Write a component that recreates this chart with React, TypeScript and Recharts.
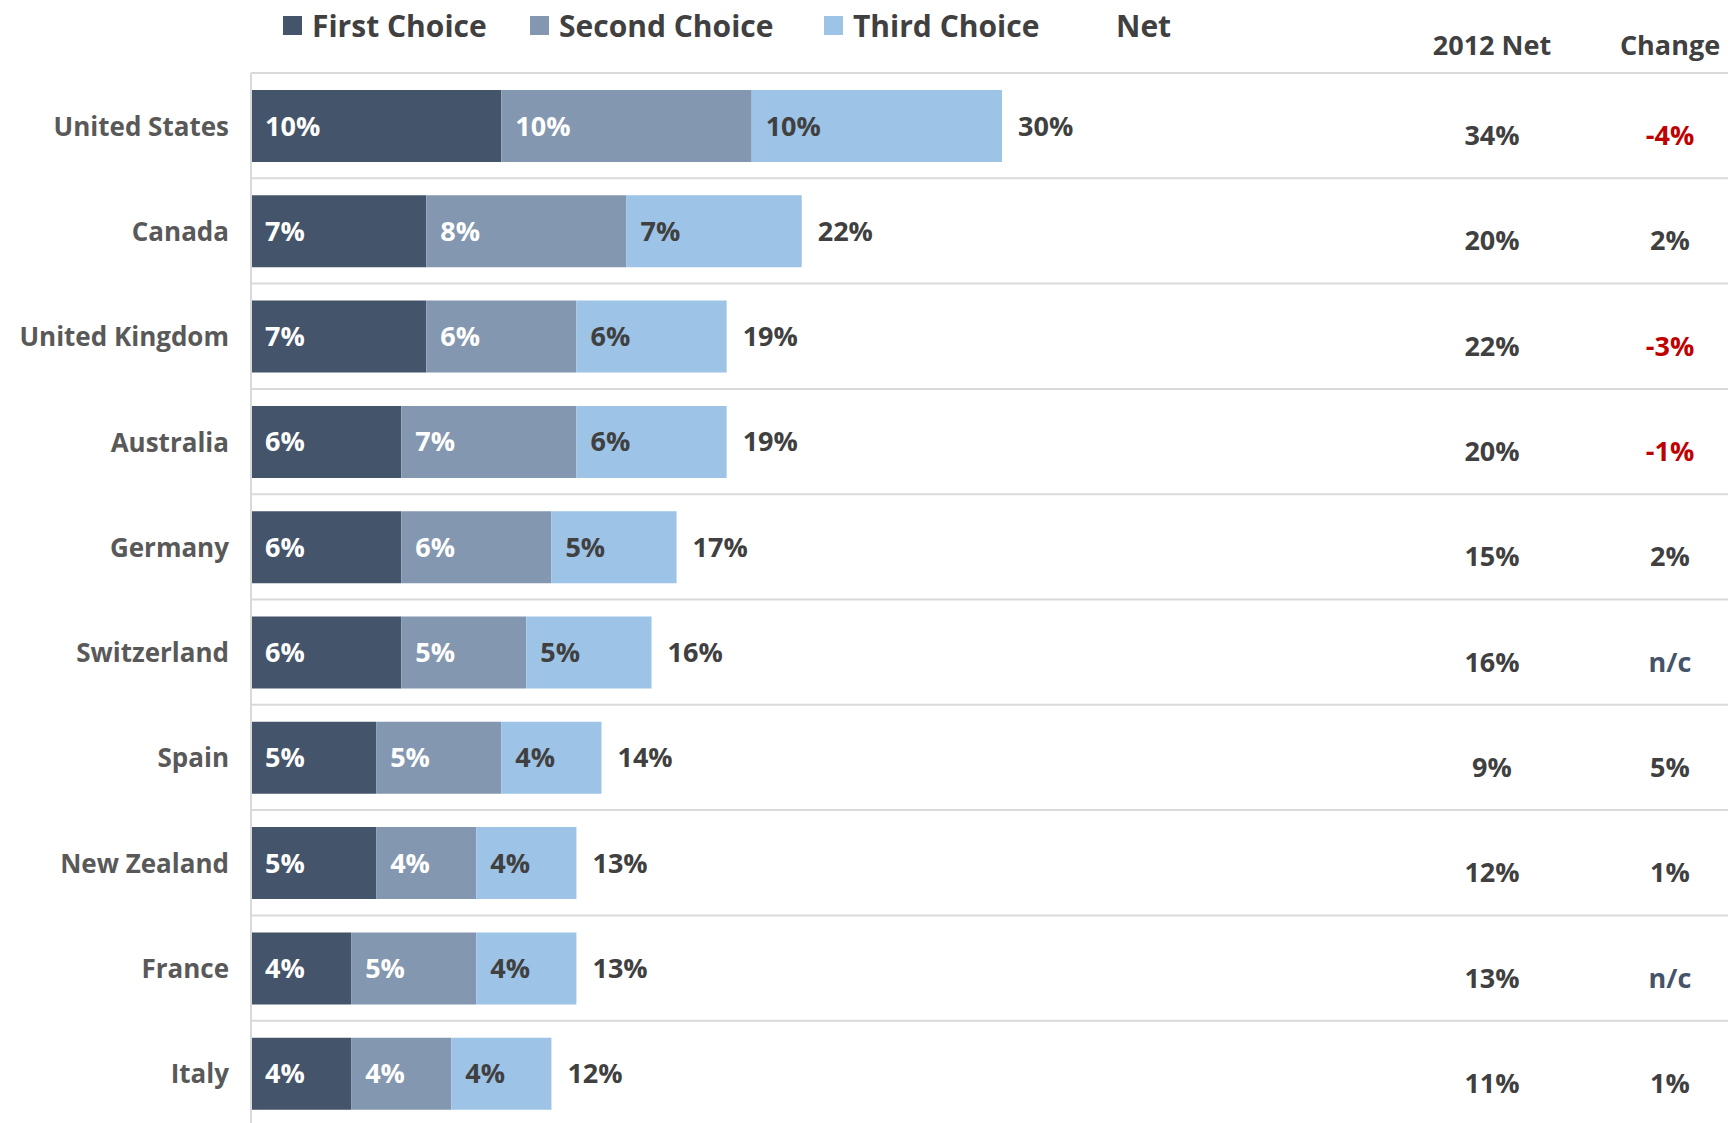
import { BarChart, Bar, XAxis, YAxis, CartesianGrid, Legend, LabelList } from 'recharts';

const countries = ['United States', 'Canada', 'United Kingdom', 'Australia', 'Germany', 'Switzerland', 'Spain', 'New Zealand', 'France', 'Italy'];
const firstChoice = [10, 7, 7, 6, 6, 6, 5, 5, 4, 4];
const secondChoice = [10, 8, 6, 7, 6, 5, 5, 4, 5, 4];
const thirdChoice = [10, 7, 6, 6, 5, 5, 4, 4, 4, 4];
const netValues = [30, 22, 19, 19, 17, 16, 14, 13, 13, 12];
const net2012 = ['34%', '20%', '22%', '20%', '15%', '16%', '9%', '12%', '13%', '11%'];
const changes = ['-4%', '2%', '-3%', '-1%', '2%', 'n/c', '5%', '1%', 'n/c', '1%'];

const legendItems = [
    { name: 'First Choice', color: '#44546A' },
    { name: 'Second Choice', color: '#8497B0' },
    { name: 'Third Choice', color: '#9DC3E6' },
    { name: 'Net', color: null },
];

const data = countries.map((country, i) => ({
    country,
    first: firstChoice[i],
    second: secondChoice[i],
    third: thirdChoice[i],
    net: netValues[i],
    net2012: net2012[i],
    change: changes[i],
}));

const FONT = '"Open Sans", "Noto Sans", sans-serif';
const W = 1729;
const H = 1126;
const TOP = 73;
const LEFT = 251;

function changeColor(c: string) {
    if (c.startsWith('-')) return '#C00000';
    if (c === 'n/c') return '#44546A';
    return '#404040';
}

const CountryTick = ({ x, y, payload }: any) => (
    <text x={x - 22} y={y} textAnchor="end" dominantBaseline="central"
        fontFamily={FONT} fontSize={26} fontWeight={700} fill="#595959">
        {payload.value}
    </text>
);

const TableTick = ({ x, y, payload }: any) => {
    const row = data.find(d => d.country === payload.value);
    if (!row) return null;
    return (
        <g>
            <text x={x - 236} y={y + 9} textAnchor="middle" dominantBaseline="central"
                fontFamily={FONT} fontSize={27} fontWeight={700} fill="#404040">
                {row.net2012}
            </text>
            <text x={x - 58} y={y + 9} textAnchor="middle" dominantBaseline="central"
                fontFamily={FONT} fontSize={27} fontWeight={700} fill={changeColor(row.change)}>
                {row.change}
            </text>
        </g>
    );
};

// zero-height box so the legend doesn't push the plot area down
const LegendContent = () => {
    const lefts = [283, 530, 824, 1116];
    return (
        <div style={{ position: 'relative', width: W, height: 0, fontFamily: FONT, fontWeight: 700, color: '#404040' }}>
            {legendItems.map((item, i) => (
                <div key={item.name} style={{ position: 'absolute', left: lefts[i], top: 5, display: 'flex', alignItems: 'center', height: 40, fontSize: 30, whiteSpace: 'nowrap' }}>
                    {item.color && <span style={{ display: 'inline-block', width: 19, height: 19, background: item.color, marginRight: 10 }} />}
                    <span>{item.name}</span>
                </div>
            ))}
            <div style={{ position: 'absolute', left: 1492, top: 26, transform: 'translateX(-50%)', fontSize: 27, whiteSpace: 'nowrap' }}>2012 Net</div>
            <div style={{ position: 'absolute', left: 1670, top: 26, transform: 'translateX(-50%)', fontSize: 27, whiteSpace: 'nowrap' }}>Change</div>
        </div>
    );
};

const rowLines = ({ offset }: any) => {
    const top = offset?.top ?? TOP;
    const height = offset?.height ?? H - TOP;
    return countries.map((_, i) => top + (i * height) / countries.length).concat([top + height]);
};

const labelStyle = { fontFamily: FONT, fontSize: 27, fontWeight: 700 };
const pct = (v: any) => `${v}%`;

export default function App() {
    return (
        <div style={{ position: 'absolute', left: 0, top: 0, width: W, height: 1123, overflow: 'hidden', background: '#fff' }}>
            <BarChart width={W} height={H} data={data} layout="vertical"
                margin={{ top: TOP, right: 0, bottom: 0, left: 0 }} barSize={72}>
                <CartesianGrid horizontal vertical={false} stroke="#D9D9D9" strokeWidth={2}
                    horizontalCoordinatesGenerator={rowLines} />
                <XAxis type="number" domain={[0, 59]} allowDataOverflow hide />
                <YAxis yAxisId="left" type="category" dataKey="country" width={LEFT}
                    tickLine={false} tickSize={0} tickMargin={0} interval={0}
                    axisLine={{ stroke: '#D9D9D9', strokeWidth: 2 }} tick={<CountryTick />} />
                <YAxis yAxisId="right" orientation="right" type="category" dataKey="country" width={1}
                    tickLine={false} tickSize={0} tickMargin={0} interval={0} axisLine={false} tick={<TableTick />} />
                <Legend verticalAlign="top" align="left" content={<LegendContent />}
                    wrapperStyle={{ position: 'absolute', top: 0, left: 0, width: W, height: 0 }} />
                <Bar yAxisId="left" dataKey="first" name="First Choice" stackId="a" fill="#44546A" isAnimationActive={false}>
                    <LabelList dataKey="first" position="insideLeft" offset={14} fill="#FFFFFF" formatter={pct} {...labelStyle} />
                </Bar>
                <Bar yAxisId="left" dataKey="second" name="Second Choice" stackId="a" fill="#8497B0" isAnimationActive={false}>
                    <LabelList dataKey="second" position="insideLeft" offset={14} fill="#FFFFFF" formatter={pct} {...labelStyle} />
                </Bar>
                <Bar yAxisId="left" dataKey="third" name="Third Choice" stackId="a" fill="#9DC3E6" isAnimationActive={false}>
                    <LabelList dataKey="third" position="insideLeft" offset={14} fill="#404040" formatter={pct} {...labelStyle} />
                    <LabelList dataKey="net" position="right" offset={16} fill="#404040" formatter={pct} {...labelStyle} />
                </Bar>
            </BarChart>
        </div>
    );
}
